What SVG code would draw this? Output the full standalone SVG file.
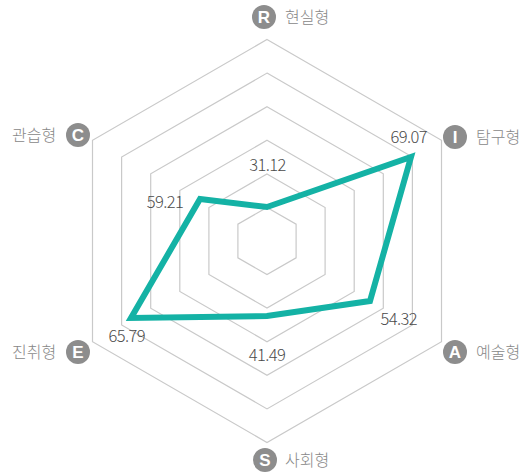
<svg xmlns="http://www.w3.org/2000/svg" width="531" height="474" viewBox="0 0 531 474">
<style>
.grid{fill:none;stroke:#c9c9c9;stroke-width:1.2}
.val{font-family:"Noto Sans CJK KR","Noto Sans",sans-serif;font-size:16.5px;font-weight:300;fill:#4a4a4a;text-anchor:middle;letter-spacing:-0.6px}
.lbl{font-family:"Noto Sans CJK KR",sans-serif;font-size:16px;font-weight:300;fill:#888}
.badge{fill:#8d8d8d}
.bl{font-family:"Liberation Sans",Arial,sans-serif;font-size:17px;font-weight:bold;fill:#fff;text-anchor:middle}
</style>
<rect width="531" height="474" fill="#fff"/>
<g id="grid">
<polygon class="grid" points="267,39.5 441.5,140.25 441.5,341.75 267,442.5 92.5,341.75 92.5,140.25"/>
<polygon class="grid" points="267,73.1 412.4,157 412.4,325 267,408.9 121.6,325 121.6,157"/>
<polygon class="grid" points="267,106.7 383.3,173.8 383.3,308.2 267,375.3 150.7,308.2 150.7,173.8"/>
<polygon class="grid" points="267,140.3 354.2,190.6 354.2,291.4 267,341.7 179.8,291.4 179.8,190.6"/>
<polygon class="grid" points="267,173.9 325.1,207.5 325.1,274.5 267,308.1 208.9,274.5 208.9,207.5"/>
<polygon class="grid" points="267,207.4 296.1,224.2 296.1,257.8 267,274.6 237.9,257.8 237.9,224.2"/>
</g>
<g id="connectors">
<polygon points="267,207 411,157 370,301 267,316 131,318 200,199" fill="none" stroke="#14b2a5" stroke-width="6" stroke-linejoin="miter" stroke-miterlimit="6"/>
</g>
<g id="values">
<text class="val" x="267.5" y="171">31.12</text>
<text class="val" x="408.7" y="143">69.07</text>
<text class="val" x="398.7" y="325">54.32</text>
<text class="val" x="267" y="361">41.49</text>
<text class="val" x="126.7" y="342">65.79</text>
<text class="val" x="165" y="208">59.21</text>
</g>
<g id="node-R">
<circle class="badge" cx="264" cy="17" r="12"/><text class="bl" x="264" y="23">R</text>
<text class="lbl" x="285" y="23">현실형</text>
</g>
<g id="node-I">
<circle class="badge" cx="455" cy="137" r="12"/><text class="bl" x="455" y="143">I</text>
<text class="lbl" x="476" y="143">탐구형</text>
</g>
<g id="node-A">
<circle class="badge" cx="455" cy="352" r="12"/><text class="bl" x="455" y="358">A</text>
<text class="lbl" x="476" y="358">예술형</text>
</g>
<g id="node-S">
<circle class="badge" cx="265" cy="460" r="12"/><text class="bl" x="265" y="466">S</text>
<text class="lbl" x="285" y="466">사회형</text>
</g>
<g id="node-E">
<circle class="badge" cx="78" cy="352" r="12"/><text class="bl" x="78" y="358">E</text>
<text class="lbl" x="12" y="358">진취형</text>
</g>
<g id="node-C">
<circle class="badge" cx="78" cy="135" r="12"/><text class="bl" x="78" y="141">C</text>
<text class="lbl" x="12" y="141">관습형</text>
</g>
</svg>
